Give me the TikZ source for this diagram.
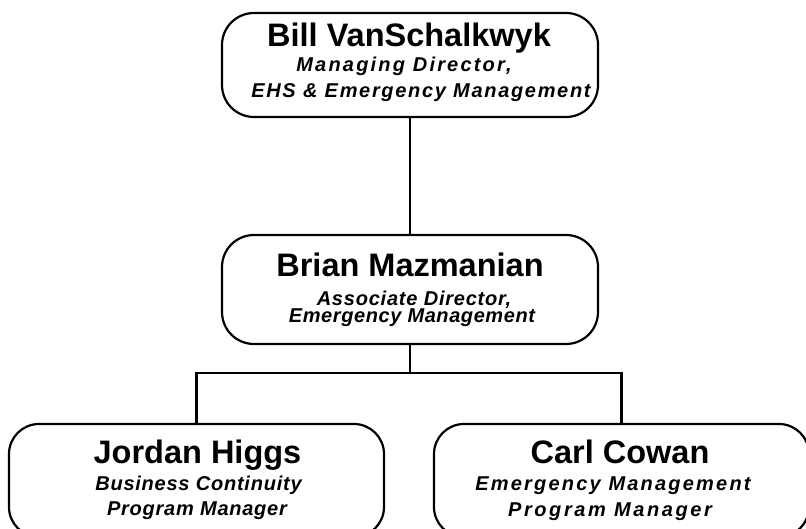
\documentclass[tikz,border=0pt]{standalone}
\usepackage{fontspec}
\setmainfont{Liberation Sans}
\begin{document}
\begin{tikzpicture}[x=1pt,y=-1pt,
  box/.style={draw=black,line width=2.2pt,rounded corners=32pt,inner sep=0pt,fill=white},
  conn/.style={draw=black,line width=2.2pt},
  nm/.style={anchor=base,inner sep=0pt,font=\fontsize{32.5}{36}\selectfont\bfseries},
  sub/.style={anchor=base,inner sep=0pt,font=\fontsize{20}{22}\selectfont\bfseries\itshape\addfontfeature{LetterSpace=#1}}]
\useasboundingbox (0,0) rectangle (806,529);
% boxes
\node[box,minimum width=376pt,minimum height=104pt] (top) at (410,65) {};
\node[box,minimum width=376pt,minimum height=109pt] (mid) at (410,289.5) {};
\node[box,rounded corners=30pt,minimum width=375pt,minimum height=113pt] (left) at (196.5,480.5) {};
\node[box,rounded corners=30pt,minimum width=375pt,minimum height=113pt] (right) at (621.5,480.5) {};
% connectors
\coordinate (jn) at (410,373);
\draw[conn] (top.south) -- (mid.north);
\draw[conn] (mid.south) -- (jn);
\draw[conn] (left.north) |- (jn) -| (right.north);
% texts
\node[nm] (topname) at (409,47) {Bill VanSchalkwyk};
\node[sub=11] (topsubA) at (404,72) {Managing Director,};
\node[sub=8.4] (topsubB) at (421,98) {EHS \& Emergency Management};
\node[nm] (midname) at (410,277) {Brian Mazmanian};
\node[sub=3.9] (midsubA) at (414,306) {Associate Director,};
\node[sub=2.9] (midsubB) at (412,322.5) {Emergency Management};
\node[nm] (leftname) at (197.5,463) {Jordan Higgs};
\node[sub=3.8] (leftsubA) at (198.5,490) {Business Continuity};
\node[sub=3.7] (leftsubB) at (197,515.5) {Program Manager};
\node[nm] (rightname) at (620,463) {Carl Cowan};
\node[sub=11] (rightsubA) at (613,490.5) {Emergency Management};
\node[sub=13] (rightsubB) at (610,516) {Program Manager};
\end{tikzpicture}
\end{document}
